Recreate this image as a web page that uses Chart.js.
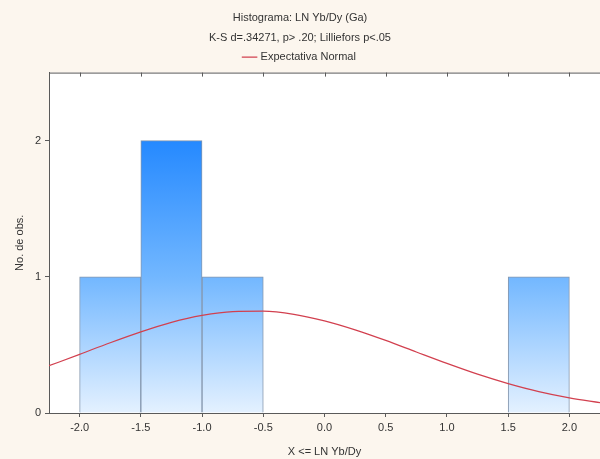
<!DOCTYPE html>
<html>
<head>
<meta charset="utf-8">
<script src="https://cdn.jsdelivr.net/npm/chart.js@4/dist/chart.umd.min.js"></script>
<style>
  html, body { margin: 0; padding: 0; background: #fcf6ee; }
  #wrap { width: 600px; height: 459px; }
</style>
</head>
<body>
<div id="wrap"><canvas id="c" width="600" height="459"></canvas></div>
<script>
// Histogram bins (centres, width 0.5) and observed counts
const binCenters = [-1.75, -1.25, -0.75, -0.25, 0.25, 0.75, 1.25, 1.75];
const binCounts  = [1, 2, 1, 0, 0, 0, 0, 1];

// Expected normal counts along the x range
const curveX = [-2.25, -2.0, -1.75, -1.5, -1.25, -1.0, -0.75, -0.5, -0.25, 0.0,
                0.25, 0.5, 0.75, 1.0, 1.25, 1.5, 1.75, 2.0, 2.25];
const curveY = [0.347, 0.431, 0.516, 0.596, 0.666, 0.717, 0.745, 0.748, 0.725, 0.677,
                0.611, 0.533, 0.448, 0.364, 0.285, 0.216, 0.157, 0.111, 0.076];

const xTicks = [-2.0, -1.5, -1.0, -0.5, 0.0, 0.5, 1.0, 1.5, 2.0];
const yTicks = [0, 1, 2];

const titleLines = ['Histograma: LN Yb/Dy (Ga)', 'K-S d=.34271, p> .20; Lilliefors p<.05'];
const curveLabel = 'Expectativa Normal';
const xTitle = 'X <= LN Yb/Dy';
const yTitle = 'No. de obs.';

const FONT = "'Liberation Sans', Arial, sans-serif";
const TEXT = '#333333';
const AXIS = '#5a5a5a';

// Background: cream page, white plotting area, top frame line
const frame = {
  id: 'frame',
  beforeDraw(chart) {
    const { ctx, chartArea: a } = chart;
    ctx.save();
    ctx.fillStyle = '#fcf6ee';
    ctx.fillRect(0, 0, chart.width, chart.height);
    ctx.fillStyle = '#ffffff';
    ctx.fillRect(a.left, a.top, a.right - a.left, a.bottom - a.top);
    ctx.restore();
  },
  afterDraw(chart) {
    const { ctx, chartArea: a } = chart;
    ctx.save();
    ctx.strokeStyle = AXIS;
    ctx.lineWidth = 1;
    ctx.beginPath();
    ctx.moveTo(a.left, a.top + 0.5);
    ctx.lineTo(a.right, a.top + 0.5);
    ctx.stroke();
    // small inward ticks on the top frame
    const xs = chart.scales.x;
    ctx.beginPath();
    xTicks.forEach(v => {
      const px = Math.round(xs.getPixelForValue(v)) + 0.5;
      ctx.moveTo(px, a.top);
      ctx.lineTo(px, a.top + 4);
    });
    ctx.stroke();
    ctx.restore();
  }
};

function barGradient(context) {
  const chart = context.chart;
  if (!chart.chartArea) return '#6fb4ff';
  const y = chart.scales.y;
  const g = chart.ctx.createLinearGradient(0, y.getPixelForValue(2), 0, y.getPixelForValue(0));
  g.addColorStop(0, '#2589ff');
  g.addColorStop(0.5, '#72b7ff');
  g.addColorStop(1, '#e4f1ff');
  return g;
}

new Chart(document.getElementById('c'), {
  data: {
    datasets: [
      {
        type: 'line',
        label: curveLabel,
        data: curveX.map((x, i) => ({ x, y: curveY[i] })),
        borderColor: '#d2404f',
        borderWidth: 1.2,
        pointRadius: 0,
        cubicInterpolationMode: 'monotone',
        fill: false,
        order: 0
      },
      {
        type: 'bar',
        label: 'obs',
        data: binCenters.map((x, i) => ({ x, y: binCounts[i] })),
        backgroundColor: barGradient,
        borderColor: '#8597ae',
        borderWidth: 1,
        barPercentage: 1,
        categoryPercentage: 1,
        order: 1
      }
    ]
  },
  options: {
    responsive: false,
    animation: false,
    layout: { padding: { top: 6, right: 0, bottom: 0, left: 0 } },
    plugins: {
      title: {
        display: true,
        text: titleLines,
        color: TEXT,
        font: { family: FONT, size: 11, weight: 'normal', lineHeight: 1.8 },
        padding: { top: 2, bottom: 0 }
      },
      legend: {
        display: true,
        position: 'top',
        labels: {
          filter: item => item.text === curveLabel,
          color: TEXT,
          font: { family: FONT, size: 11 },
          usePointStyle: true,
          pointStyle: 'line',
          boxWidth: 26,
          padding: 4
        }
      },
      tooltip: { enabled: false }
    },
    scales: {
      x: {
        type: 'linear',
        min: -2.25,
        max: 2.25,
        offset: false,
        afterBuildTicks: s => { s.ticks = xTicks.map(v => ({ value: v })); },
        afterFit: s => { s.height = 46; },
        ticks: {
          color: TEXT,
          font: { family: FONT, size: 11 },
          padding: 4,
          maxRotation: 0,
          callback: v => Number(v).toFixed(1)
        },
        grid: { offset: false, drawOnChartArea: false, drawTicks: true, tickLength: 4, color: AXIS },
        border: { display: true, color: AXIS, width: 1 },
        title: {
          display: true,
          text: xTitle,
          color: TEXT,
          font: { family: FONT, size: 11 },
          padding: { top: 2, bottom: 0 }
        }
      },
      y: {
        type: 'linear',
        min: 0,
        max: 2.5,
        afterBuildTicks: s => { s.ticks = yTicks.map(v => ({ value: v })); },
        afterFit: s => { s.width = 49; },
        ticks: {
          color: TEXT,
          font: { family: FONT, size: 11 },
          padding: 4
        },
        grid: { offset: false, drawOnChartArea: false, drawTicks: true, tickLength: 4, color: AXIS },
        border: { display: true, color: AXIS, width: 1 },
        title: {
          display: true,
          text: yTitle,
          color: TEXT,
          font: { family: FONT, size: 11 },
          padding: { top: 13, bottom: 4 }
        }
      }
    }
  },
  plugins: [frame]
});
</script>
</body>
</html>
